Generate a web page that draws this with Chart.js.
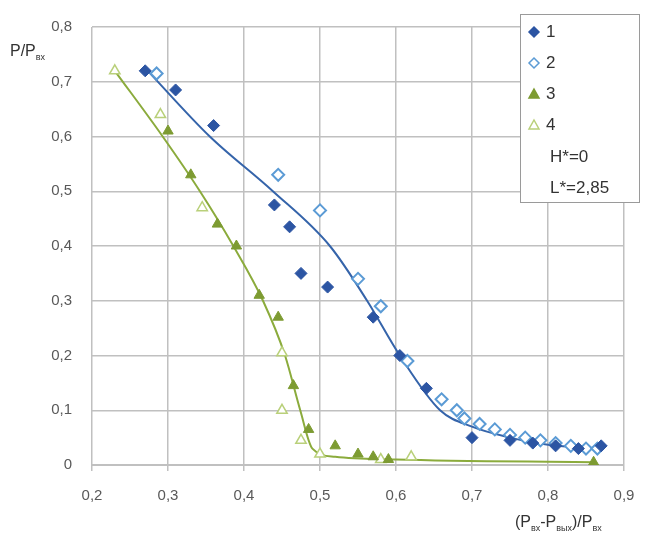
<!DOCTYPE html>
<html>
<head>
<meta charset="utf-8">
<script src="https://cdn.jsdelivr.net/npm/chart.js@4.4.0/dist/chart.umd.min.js"></script>
<style>
  html, body { margin: 0; padding: 0; background: #fff; }
  #wrap { width: 646px; height: 540px; position: relative; }
</style>
</head>
<body>
<div id="wrap"><canvas id="chart"></canvas></div>
<script>
// ------------------ data ------------------
var s1x = [0.27, 0.31, 0.36, 0.44, 0.46, 0.475, 0.51, 0.57, 0.605, 0.64, 0.70, 0.75, 0.78, 0.81, 0.84, 0.87];
var s1y = [0.72, 0.685, 0.62, 0.475, 0.435, 0.35, 0.325, 0.27, 0.20, 0.14, 0.05, 0.045, 0.04, 0.035, 0.03, 0.035];

var s2x = [0.285, 0.445, 0.50, 0.55, 0.58, 0.615, 0.66, 0.68, 0.69, 0.71, 0.73, 0.75, 0.77, 0.79, 0.81, 0.83, 0.85, 0.865];
var s2y = [0.715, 0.53, 0.465, 0.34, 0.29, 0.19, 0.12, 0.10, 0.085, 0.075, 0.065, 0.055, 0.05, 0.045, 0.04, 0.035, 0.03, 0.03];

var s3x = [0.30, 0.33, 0.365, 0.39, 0.42, 0.445, 0.465, 0.485, 0.52, 0.55, 0.57, 0.59, 0.86];
var s3y = [0.61, 0.53, 0.44, 0.40, 0.31, 0.27, 0.145, 0.065, 0.035, 0.02, 0.015, 0.01, 0.005];

var s4x = [0.23, 0.29, 0.345, 0.45, 0.45, 0.475, 0.50, 0.58, 0.62];
var s4y = [0.72, 0.64, 0.47, 0.205, 0.10, 0.045, 0.02, 0.01, 0.015];

// trend curves as seen on the picture
var blueLineX = [0.27, 0.355, 0.438, 0.513, 0.562, 0.605, 0.658, 0.70, 0.75, 0.80, 0.87];
var blueLineY = [0.725, 0.60, 0.50, 0.40, 0.30, 0.20, 0.10, 0.07, 0.05, 0.037, 0.03];
var greenLineX = [0.23, 0.293, 0.342, 0.386, 0.425, 0.454, 0.474, 0.49, 0.52, 0.60, 0.86];
var greenLineY = [0.72, 0.60, 0.50, 0.40, 0.30, 0.20, 0.10, 0.03, 0.015, 0.01, 0.005];

var legendLabels = ['1', '2', '3', '4'];
var legendNotes = ['H*=0', 'L*=2,85'];

function pts(xs, ys) {
  return xs.map(function (x, i) { return { x: x, y: ys[i] }; });
}

var blueDark = '#2c55a3';
var blueLight = '#5b9bd5';
var greenDark = '#7d9b32';
var greenLight = '#b9d07a';

// custom legend box + axis titles with subscripts
var extras = {
  id: 'extras',
  afterDraw: function (chart) {
    var ctx = chart.ctx;
    ctx.save();
    // legend box
    ctx.fillStyle = '#fff';
    ctx.fillRect(520, 14, 119, 188);
    ctx.strokeStyle = '#9a9a9a';
    ctx.lineWidth = 1;
    ctx.strokeRect(520.5, 14.5, 119, 188);
    var ds = chart.data.datasets;
    ctx.font = '17px "Liberation Sans", Arial, sans-serif';
    ctx.textBaseline = 'middle';
    for (var i = 0; i < legendLabels.length; i++) {
      var y = 32 + i * 31;
      var d = ds[i];
      ctx.fillStyle = d.backgroundColor;
      ctx.strokeStyle = d.borderColor;
      ctx.lineWidth = 1.5;
      ctx.beginPath();
      if (d.pointStyle === 'rectRot') {
        ctx.moveTo(534, y - 5); ctx.lineTo(539, y); ctx.lineTo(534, y + 5); ctx.lineTo(529, y);
      } else {
        ctx.moveTo(534, y - 5); ctx.lineTo(539, y + 4); ctx.lineTo(529, y + 4);
      }
      ctx.closePath();
      ctx.fill(); ctx.stroke();
      ctx.fillStyle = '#333';
      ctx.fillText(legendLabels[i], 546, y);
    }
    for (var j = 0; j < legendNotes.length; j++) {
      ctx.fillText(legendNotes[j], 550, 157 + j * 31);
    }

    // y title  P/Pвх
    ctx.fillStyle = '#333';
    ctx.font = '16px "Liberation Sans", Arial, sans-serif';
    ctx.textBaseline = 'alphabetic';
    ctx.textAlign = 'left';
    ctx.fillText('P/P', 10, 56);
    var w = ctx.measureText('P/P').width;
    ctx.font = '9px "Liberation Sans", Arial, sans-serif';
    ctx.fillText('вх', 10 + w, 60);

    // x title  (Pвх-Pвых)/Pвх
    var parts = [['(P', 0], ['вх', 1], ['-P', 0], ['вых', 1], [')/P', 0], ['вх', 1]];
    var x = 515;
    parts.forEach(function (p) {
      ctx.font = p[1] ? '9px "Liberation Sans", Arial, sans-serif' : '16px "Liberation Sans", Arial, sans-serif';
      ctx.fillText(p[0], x, p[1] ? 531 : 527);
      x += ctx.measureText(p[0]).width;
    });
    ctx.restore();
  }
};

var tickFont = { family: '"Liberation Sans", Arial, sans-serif', size: 15 };

var chart = new Chart(document.getElementById('chart'), {
  type: 'scatter',
  data: {
    datasets: [
      {
        label: '1', data: pts(s1x, s1y), pointStyle: 'rectRot', pointRadius: 6,
        backgroundColor: blueDark, borderColor: blueDark, borderWidth: 1
      },
      {
        label: '2', data: pts(s2x, s2y), pointStyle: 'rectRot', pointRadius: 6,
        backgroundColor: '#ffffff', borderColor: blueLight, borderWidth: 2
      },
      {
        label: '3', data: pts(s3x, s3y), pointStyle: 'triangle', pointRadius: 6,
        backgroundColor: greenDark, borderColor: greenDark, borderWidth: 1
      },
      {
        label: '4', data: pts(s4x, s4y), pointStyle: 'triangle', pointRadius: 6,
        backgroundColor: '#ffffff', borderColor: greenLight, borderWidth: 1.5
      },
      {
        label: 'fit1', data: pts(blueLineX, blueLineY), showLine: true, pointRadius: 0,
        borderColor: '#3564aa', borderWidth: 2, cubicInterpolationMode: 'monotone', order: 5
      },
      {
        label: 'fit3', data: pts(greenLineX, greenLineY), showLine: true, pointRadius: 0,
        borderColor: '#8bab3c', borderWidth: 2, cubicInterpolationMode: 'monotone', order: 5
      }
    ]
  },
  options: {
    responsive: true,
    maintainAspectRatio: false,
    animation: false,
    layout: { padding: { top: 27, right: 22, left: 0, bottom: 0 } },
    plugins: { legend: { display: false }, tooltip: { enabled: false } },
    scales: {
      x: {
        type: 'linear', min: 0.2, max: 0.9,
        ticks: {
          stepSize: 0.1, color: '#595959', font: tickFont, padding: 16,
          callback: function (v) { return v.toFixed(1).replace('.', ','); }
        },
        grid: { color: '#c0c0c0', lineWidth: 1.5, drawTicks: true, tickLength: 6 },
        border: { color: '#c0c0c0', width: 2 },
        afterFit: function (s) { s.height = 75; s.paddingRight = 0; s.paddingLeft = 0; }
      },
      y: {
        type: 'linear', min: 0, max: 0.8,
        ticks: {
          stepSize: 0.1, color: '#595959', font: tickFont, padding: 20,
          callback: function (v) { return v === 0 ? '0' : v.toFixed(1).replace('.', ','); }
        },
        grid: { color: '#c0c0c0', lineWidth: 1.5, drawTicks: false },
        border: { display: false },
        afterFit: function (s) { s.width = 92; s.paddingTop = 0; s.paddingBottom = 0; }
      }
    }
  },
  plugins: [extras]
});
</script>
</body>
</html>
